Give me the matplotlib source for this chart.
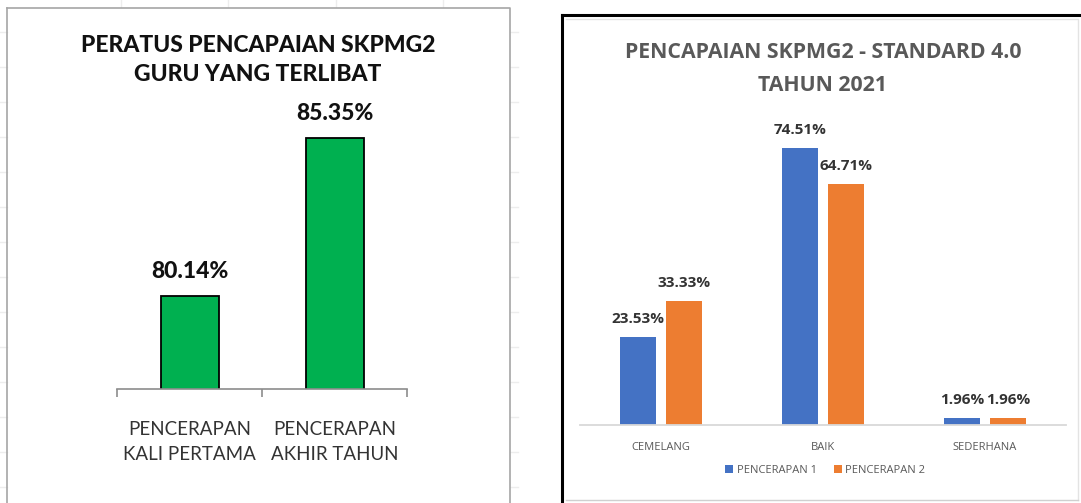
import matplotlib.pyplot as plt
import numpy as np

# left chart data
left_cats = ["PENCERAPAN\nKALI PERTAMA", "PENCERAPAN\nAKHIR TAHUN"]
left_vals = [80.14, 85.35]

# right chart data
right_cats = ["CEMELANG", "BAIK", "SEDERHANA"]
pencerapan_1 = [23.53, 74.51, 1.96]
pencerapan_2 = [33.33, 64.71, 1.96]
series_names = ["PENCERAPAN 1", "PENCERAPAN 2"]

W, H = 1081, 503


def px_axes(fig, x0, y0, x1, y1, **kw):
    # pixel box (top-left origin) -> figure axes
    return fig.add_axes([x0 / W, 1 - y1 / H, (x1 - x0) / W, (y1 - y0) / H], **kw)


fig = plt.figure(figsize=(W / 100, H / 100), dpi=100)

# background frame layer (spreadsheet look)
bg = px_axes(fig, 0, 0, W, H, zorder=-5)
bg.set_xlim(0, W)
bg.set_ylim(H, 0)
bg.axis("off")
for gx in [121, 228, 336, 443]:
    bg.plot([gx, gx], [0, 7], color="#EDEDED", lw=1)
for gy in range(32, 500, 35):
    bg.plot([510, 518], [gy, gy], color="#EDEDED", lw=1)
    bg.plot([0, 7], [gy, gy], color="#EDEDED", lw=1)
# left panel gray box
bg.plot([7, 510, 510], [8, 8, 505], color="#A6A6A6", lw=1.2)
bg.plot([7, 7], [8, 505], color="#A6A6A6", lw=1.2)
# right panel black border + inner light frame
bg.plot([562, 562], [15, 503], color="black", lw=2.2)
bg.plot([562, 1081], [15, 15], color="black", lw=2.2)
bg.plot([566, 1078, 1078], [19, 19, 500], color="#E3E3E3", lw=1)
bg.plot([566, 1078], [500, 500], color="#D0D0D0", lw=1)

# ---------------- left chart ----------------
ax1 = px_axes(fig, 117, 100, 407, 389)
x1 = np.arange(len(left_cats))
bars = ax1.bar(x1, left_vals, width=0.4, color="#00B050", edgecolor="black", linewidth=1.3)
ax1.set_xlim(-0.5, 1.5)
ax1.set_ylim(77.07, 86.6)
ax1.bar_label(bars, labels=[f"{v:.2f}%" for v in left_vals], padding=10,
              fontsize=16.5, fontweight=900, family="Lato", color="#111111")
for s in ["top", "right", "left"]:
    ax1.spines[s].set_visible(False)
ax1.spines["bottom"].set_color("#8C8C8C")
ax1.spines["bottom"].set_linewidth(1.2)
ax1.set_yticks([])
ax1.set_xticks(x1)
ax1.set_xticklabels(left_cats, fontsize=13.5, family="Lato", color="#333333", linespacing=1.55)
ax1.tick_params(axis="x", which="major", length=0, pad=23)
ax1.set_xticks([-0.5, 0.5, 1.5], minor=True)
ax1.tick_params(axis="x", which="minor", length=6, color="#8C8C8C", width=1.2)

fig.text(258 / W, 1 - 60 / H, "PERATUS PENCAPAIAN SKPMG2\nGURU YANG TERLIBAT",
         ha="center", va="center", fontsize=16.5, fontweight=900, family="Lato",
         color="#111111", linespacing=1.45)

# ---------------- right chart ----------------
ax2 = px_axes(fig, 580, 120, 1066, 425)
x2 = np.arange(len(right_cats))
b1 = ax2.bar(x2 - 0.142, pencerapan_1, width=0.222, color="#4472C4", label=series_names[0])
b2 = ax2.bar(x2 + 0.142, pencerapan_2, width=0.222, color="#ED7D31", label=series_names[1])
ax2.set_xlim(-0.5, 2.5)
ax2.set_ylim(0, 82)
for b, vals in [(b1, pencerapan_1), (b2, pencerapan_2)]:
    ax2.bar_label(b, labels=[f"{v:.2f}%" for v in vals], padding=8,
                  fontsize=11, fontweight="bold", family="Open Sans", color="#333333")
for s in ["top", "right", "left"]:
    ax2.spines[s].set_visible(False)
ax2.spines["bottom"].set_color("#D9D9D9")
ax2.spines["bottom"].set_linewidth(1.3)
ax2.set_yticks([])
ax2.set_xticks(x2)
ax2.set_xticklabels(right_cats, fontsize=8, family="Open Sans", color="#595959")
ax2.tick_params(axis="x", length=0, pad=12)
ax2.legend(loc="center", bbox_to_anchor=(0.505, -0.148), ncol=2, frameon=False,
           prop={"family": "Open Sans", "size": 8}, handlelength=0.7, handleheight=0.7,
           handletextpad=0.3, columnspacing=1.6, labelcolor="#595959")

fig.text(823 / W, 1 - 69 / H, "PENCAPAIAN SKPMG2 - STANDARD 4.0\nTAHUN 2021",
         ha="center", va="center", fontsize=15.3, fontweight="bold", family="Open Sans",
         color="#595959", linespacing=1.75)

fig.savefig("out.png", dpi=100)
